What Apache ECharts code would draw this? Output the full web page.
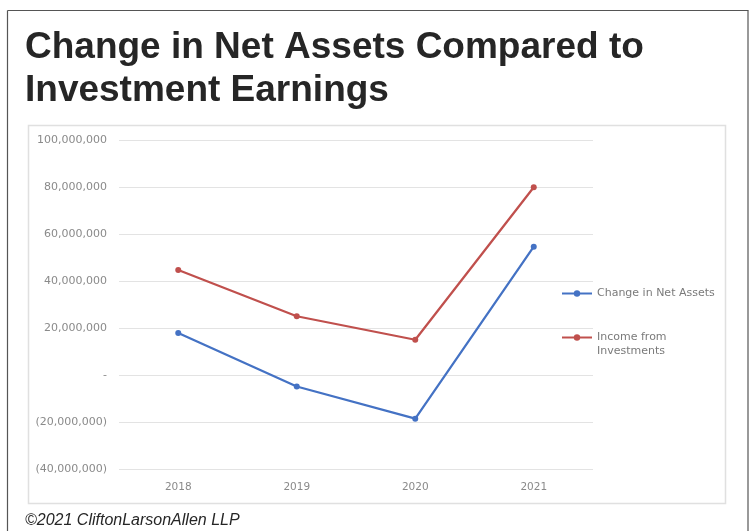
<!DOCTYPE html>
<html>
<head>
<meta charset="utf-8">
<script src="https://cdn.jsdelivr.net/npm/echarts@6/dist/echarts.min.js"></script>
<style>
html,body{margin:0;padding:0;background:#fff;}
#c{width:749px;height:531px;}
</style>
</head>
<body>
<div id="c"></div>
<script>
var categories = ['2018', '2019', '2020', '2021'];
var netAssets = [17900000, -4900000, -18600000, 54600000];
var investIncome = [44700000, 25000000, 15000000, 79900000];
var seriesNames = ['Change in Net Assets', 'Income from Investments'];
var titleText = 'Change in Net Assets Compared to\nInvestment Earnings';
var footerText = '\u00a92021 CliftonLarsonAllen LLP';

function fmt(v) {
  if (v === 0) return '-';
  var s = Math.abs(v).toLocaleString('en-US');
  return v < 0 ? '(' + s + ')' : s;
}

var smallFont = 'DejaVu Sans, sans-serif';
var chart = echarts.init(document.getElementById('c'));
chart.setOption({
  animation: false,
  backgroundColor: '#ffffff',
  title: {
    text: titleText,
    left: 20,
    top: 21,
    textStyle: {
      fontFamily: 'Liberation Sans, Arial, sans-serif',
      fontWeight: 'bold',
      fontSize: 37,
      lineHeight: 43,
      color: '#262626'
    }
  },
  graphic: [
    { type: 'line', shape: { x1: 7.5, y1: 10.5, x2: 748.5, y2: 10.5 }, style: { stroke: '#555', lineWidth: 1.2 } },
    { type: 'line', shape: { x1: 7.5, y1: 10.5, x2: 7.5, y2: 531 }, style: { stroke: '#555', lineWidth: 1.2 } },
    { type: 'line', shape: { x1: 748, y1: 10.5, x2: 748, y2: 531 }, style: { stroke: '#555', lineWidth: 1.2 } },
    { type: 'rect', shape: { x: 28.5, y: 125.5, width: 697, height: 378 }, style: { fill: 'none', stroke: '#e0e0e0', lineWidth: 1.5 }, z: -1 },
    { type: 'text', left: 25, top: 513, style: { text: footerText, fontFamily: 'Liberation Sans, Arial, sans-serif', fontStyle: 'italic', fontSize: 16, fill: '#262626' } },
    { type: 'text', x: 597, y: 351, style: { text: 'Investments', fontFamily: smallFont, fontSize: 11, fill: '#7a7a7a', verticalAlign: 'middle', align: 'left' } }
  ],
  legend: [
    {
      data: [seriesNames[0]],
      left: 556, top: 283,
      itemWidth: 30, itemHeight: 8,
      textStyle: { fontFamily: smallFont, fontSize: 11, color: '#7a7a7a' }
    },
    {
      data: [seriesNames[1]],
      left: 556, top: 327,
      itemWidth: 30, itemHeight: 8,
      formatter: function () { return 'Income from'; },
      textStyle: { fontFamily: smallFont, fontSize: 11, color: '#7a7a7a' }
    }
  ],
  grid: { left: 119, right: 156, top: 140, bottom: 62, containLabel: false },
  xAxis: {
    type: 'category',
    data: categories,
    boundaryGap: true,
    axisLine: { show: false },
    axisTick: { show: false },
    axisLabel: { color: '#8a8a8a', fontSize: 10.5, margin: 13, fontFamily: smallFont }
  },
  yAxis: {
    type: 'value',
    min: -40000000,
    max: 100000000,
    interval: 20000000,
    axisLine: { show: false },
    axisTick: { show: false },
    splitLine: { lineStyle: { color: '#e3e3e3', width: 1 } },
    axisLabel: { color: '#8a8a8a', fontSize: 11, margin: 12, fontFamily: smallFont, formatter: fmt }
  },
  series: [
    {
      name: seriesNames[0], type: 'line', data: netAssets,
      symbol: 'circle', symbolSize: 6,
      lineStyle: { color: '#4472C4', width: 2.25 },
      itemStyle: { color: '#4472C4' }
    },
    {
      name: seriesNames[1], type: 'line', data: investIncome,
      symbol: 'circle', symbolSize: 6,
      lineStyle: { color: '#C0504D', width: 2.25 },
      itemStyle: { color: '#C0504D' }
    }
  ]
});
</script>
</body>
</html>
